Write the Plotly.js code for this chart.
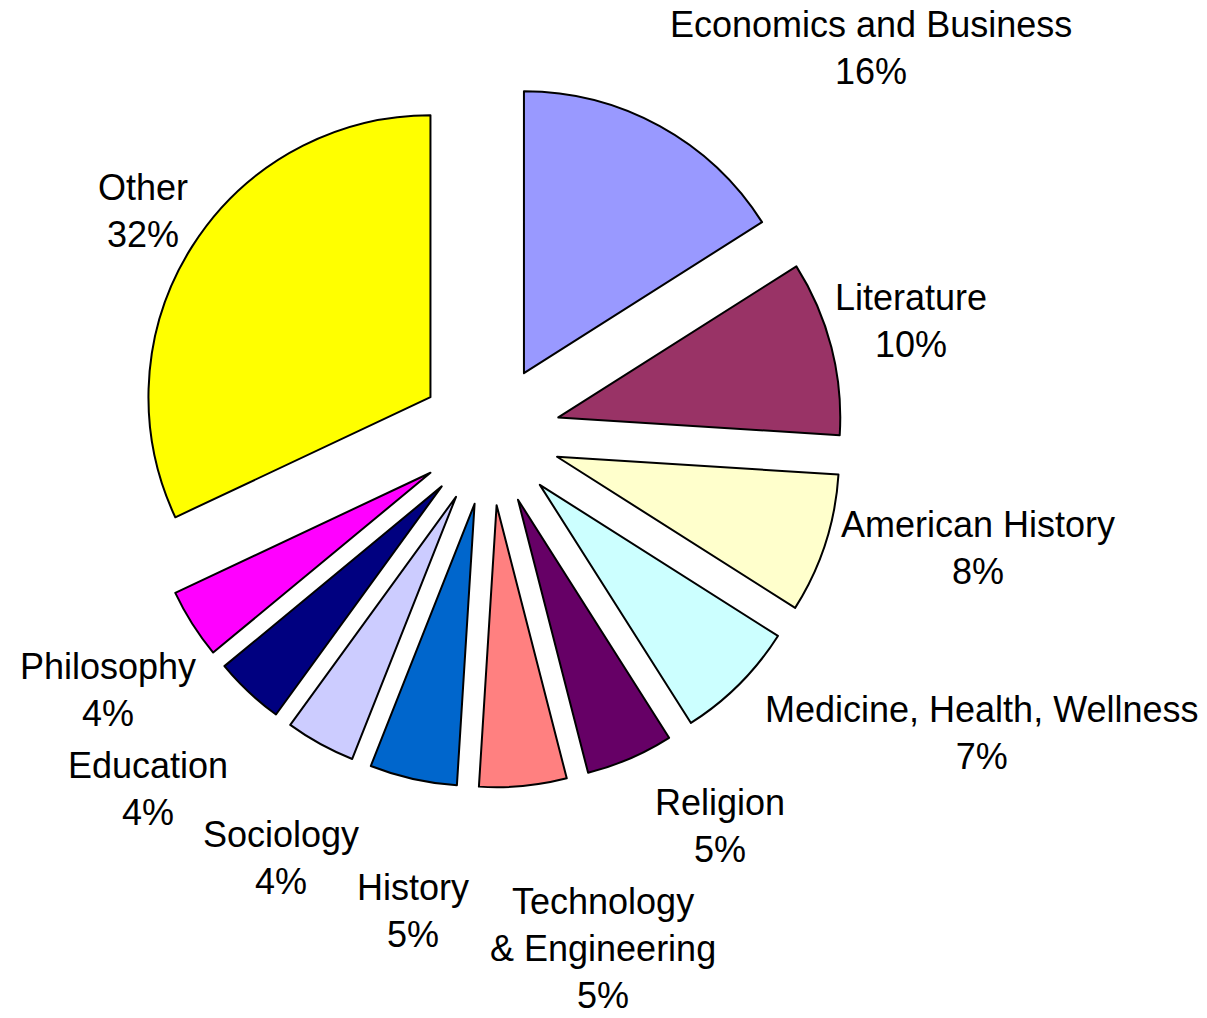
<!DOCTYPE html>
<html>
<head>
<meta charset="utf-8">
<script src="https://cdn.plot.ly/plotly-3.0.1.min.js"></script>
<style>html,body{margin:0;padding:0;background:#fff;}#chart{width:1207px;height:1018px;}</style>
</head>
<body>
<div id="chart"></div>
<script>
// Data
const categories = ["Economics and Business", "Literature", "American History", "Medicine, Health, Wellness", "Religion", "Technology<br>& Engineering", "History", "Sociology", "Education", "Philosophy", "Other"];
const shares = [16, 10, 8, 7, 5, 5, 5, 4, 4, 4, 32];

// Styles
const sliceColors = ["#9999FF", "#993366", "#FFFFCC", "#CCFFFF", "#660066", "#FF8080", "#0066CC", "#CCCCFF", "#000080", "#FF00FF", "#FFFF00"];
// Label placement (pixel centre of each data label, as placed in the original chart)
const labelPixelX = [871, 911, 978, 982, 720, 603, 413, 281, 148, 108, 143];
const labelPixelY = [48, 321, 548, 733, 826, 948, 911, 858, 789, 690, 211];

const W = 1207, H = 1018;
const FONT = "Liberation Sans, Arial, sans-serif";

const total = shares.reduce((a, b) => a + b, 0);

const trace = {
  type: "pie",
  labels: categories,
  values: shares,
  sort: false,
  direction: "clockwise",
  rotation: 0,
  pull: shares.map(() => 0.25),
  marker: { colors: sliceColors, line: { color: "#000000", width: 2 } },
  textinfo: "none",
  textposition: "none",
  hoverinfo: "label+percent",
  domain: { x: [0.1139, 0.698], y: [0.2264, 0.919] }
};

const annotations = categories.map((c, i) => ({
  text: c + "<br>" + Math.round(shares[i] / total * 100) + "%",
  xref: "paper", yref: "paper",
  x: labelPixelX[i] / W,
  y: 1 - labelPixelY[i] / H,
  xanchor: "center", yanchor: "middle",
  align: "center",
  showarrow: false,
  font: { family: FONT, size: 36, color: "#000000" }
}));

const layout = {
  width: W,
  height: H,
  margin: { l: 0, r: 0, t: 0, b: 0 },
  showlegend: false,
  paper_bgcolor: "#ffffff",
  font: { family: FONT, size: 36, color: "#000000" },
  annotations: annotations
};

Plotly.newPlot("chart", [trace], layout, { displayModeBar: false, staticPlot: true });
</script>
</body>
</html>
